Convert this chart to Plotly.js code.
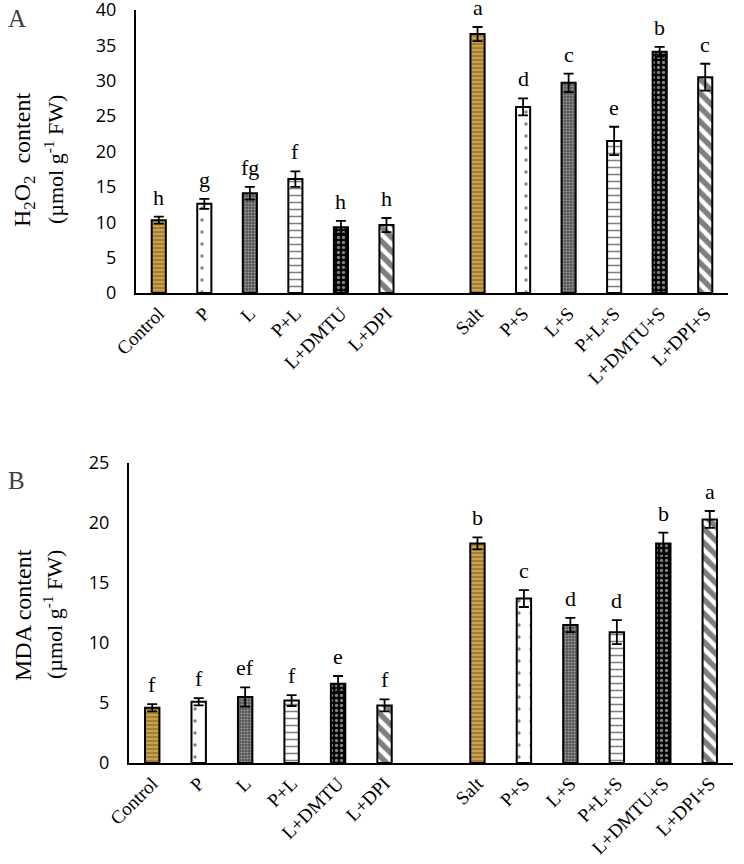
<!DOCTYPE html>
<html>
<head>
<meta charset="utf-8">
<script src="https://cdn.plot.ly/plotly-3.0.1.min.js"></script>
<style>body{margin:0;padding:0;background:#fff}#chart{width:744px;height:864px}</style>
</head>
<body>
<div id="chart"></div>
<script>
// ---- data ----
const categories = ["Control","P","L","P+L","L+DMTU","L+DPI","Salt","P+S","L+S","P+L+S","L+DMTU+S","L+DPI+S"];
const h2o2Values = [10.3,12.6,14.1,16.1,9.3,9.6,36.6,26.3,29.7,21.5,34.1,30.5];
const h2o2Errors = [0.5,0.7,0.9,1.1,0.9,1.0,1.0,1.2,1.3,2.0,0.7,1.9];
const h2o2Letters = ["h","g","fg","f","h","h","a","d","c","e","b","c"];
const mdaValues = [4.6,5.1,5.5,5.2,6.6,4.8,18.3,13.7,11.5,10.9,18.3,20.3];
const mdaErrors = [0.3,0.3,0.8,0.45,0.65,0.5,0.5,0.7,0.6,1.0,0.9,0.7];
const mdaLetters = ["f","f","ef","f","e","f","b","c","d","d","b","a"];
const h2o2Ticks = [0,5,10,15,20,25,30,35,40];
const mdaTicks = [0,5,10,15,20,25];

// ---- styles (one per treatment, shared by the non-salt and salt groups) ----
const patShape = ["-",".",".","-",".","\\"];
const patBg    = ["#c9a24e","#ffffff","#555555","#ffffff","#000000","#ffffff"];
const patFg    = ["#6a4818","#000000","#e6e6e6","#000000","#ffffff","#000000"];
const patSize  = [4,12,3,7,5,10];
const patSol   = [0.4,0.06,0.35,0.22,0.35,0.55];
// position index with a gap between the two groups
const xpos = categories.map((c,i) => i < 6 ? i : i + 1);

function barTraces(vals, errs, xa, ya){
  const out = [];
  for (let g = 0; g < 6; g++){
    const idx = [g, g + 6];
    out.push({
      type:'bar', x:idx.map(i=>xpos[i]), y:idx.map(i=>vals[i]), xaxis:xa, yaxis:ya, width:0.31,
      marker:{
        color:patBg[g],
        line:{color:'#000',width:2},
        pattern:{shape:patShape[g], bgcolor:patBg[g], fgcolor:patFg[g],
                 size:patSize[g], solidity:patSol[g], fillmode:'overlay'}
      },
      error_y:{type:'data', array:idx.map(i=>errs[i]), visible:true, color:'#000', thickness:1.8, width:5},
      showlegend:false, hoverinfo:'skip'
    });
  }
  return out;
}

const serif = 'Liberation Serif, Times New Roman, serif';
const sans = 'Open Sans, Noto Sans, sans-serif';

function letterAnns(vals, errs, letters, xa, ya){
  return letters.map((l,i) => ({
    x:xpos[i], y:vals[i]+errs[i], xref:xa, yref:ya, text:l, showarrow:false,
    yanchor:'bottom', yshift:5, font:{family:serif, size:22, color:'#000'}
  }));
}

const xCommon = {
  range:[-0.5,12.5], tickvals:xpos, ticktext:categories, tickangle:-45,
  showline:true, linecolor:'#000', linewidth:2, ticks:'', showgrid:false, zeroline:false,
  tickfont:{family:serif, size:19, color:'#000'}, fixedrange:true
};
const yCommon = {
  showline:true, linecolor:'#000', linewidth:2, ticks:'', showgrid:false, zeroline:false,
  tickfont:{family:sans, size:18, color:'#000'}, ticklabelstandoff:14, tickmode:'array',
  ticklabeloverflow:'allow'
};

const layout = {
  width:744, height:864, margin:{l:0,r:0,t:0,b:0},
  paper_bgcolor:'#fff', plot_bgcolor:'#fff', barmode:'overlay',
  xaxis: Object.assign({}, xCommon, {domain:[136/744, 728/744], anchor:'y'}),
  yaxis: Object.assign({}, yCommon, {domain:[(864-293)/864, (864-10)/864], range:[0,40], tickvals:h2o2Ticks, anchor:'x'}),
  xaxis2: Object.assign({}, xCommon, {domain:[129/744, 733/744], anchor:'y2'}),
  yaxis2: Object.assign({}, yCommon, {domain:[(864-763)/864, (864-463)/864], range:[0,25], tickvals:mdaTicks, anchor:'x2'}),
  annotations: [].concat(
    letterAnns(h2o2Values, h2o2Errors, h2o2Letters, 'x', 'y'),
    letterAnns(mdaValues, mdaErrors, mdaLetters, 'x2', 'y2'),
    [
      {x:6/744, y:1-3/864, xref:'paper', yref:'paper', xanchor:'left', yanchor:'top', text:'A', showarrow:false, font:{family:serif, size:25, color:'#404040'}},
      {x:6/744, y:1-465/864, xref:'paper', yref:'paper', xanchor:'left', yanchor:'top', text:'B', showarrow:false, font:{family:serif, size:25, color:'#404040'}},
      {x:24/744, y:1-160/864, xref:'paper', yref:'paper', xanchor:'center', yanchor:'middle', textangle:-90, text:'H<sub>2</sub>O<sub>2</sub>  content', showarrow:false, font:{family:serif, size:24, color:'#000'}},
      {x:54/744, y:1-160/864, xref:'paper', yref:'paper', xanchor:'center', yanchor:'middle', textangle:-90, text:'(µmol g<sup>-1</sup> FW)', showarrow:false, font:{family:serif, size:22, color:'#000'}},
      {x:23/744, y:1-615/864, xref:'paper', yref:'paper', xanchor:'center', yanchor:'middle', textangle:-90, text:'MDA content', showarrow:false, font:{family:serif, size:24, color:'#000'}},
      {x:53/744, y:1-615/864, xref:'paper', yref:'paper', xanchor:'center', yanchor:'middle', textangle:-90, text:'(µmol g<sup>-1</sup> FW)', showarrow:false, font:{family:serif, size:22, color:'#000'}}
    ]
  )
};

Plotly.newPlot('chart',
  barTraces(h2o2Values, h2o2Errors, 'x', 'y').concat(barTraces(mdaValues, mdaErrors, 'x2', 'y2')),
  layout, {staticPlot:true, displayModeBar:false});
</script>
</body>
</html>
